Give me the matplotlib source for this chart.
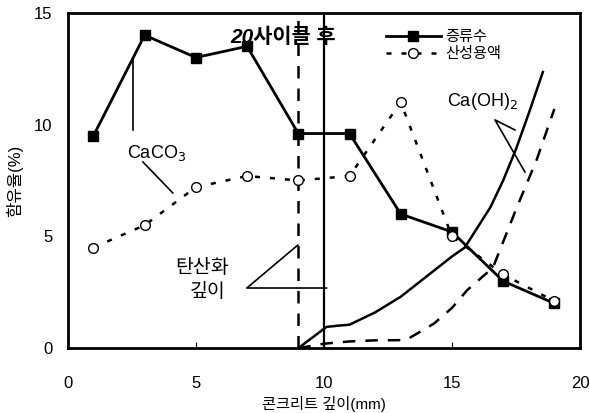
import numpy as np
import matplotlib.pyplot as plt

plt.rcParams['font.family'] = ['Liberation Sans', 'Noto Sans CJK KR', 'DejaVu Sans']

# 측정 깊이 (mm)
depth = [1, 3, 5, 7, 9, 11, 13, 15, 17, 19]
# 증류수
water = [9.5, 14.0, 13.0, 13.5, 9.6, 9.6, 6.0, 5.2, 3.0, 2.0]
# 산성용액
acid = [4.5, 5.5, 7.2, 7.7, 7.5, 7.7, 11.0, 5.0, 3.3, 2.1]

# Ca(OH)2 곡선
oh_water_x = [9.0, 10.1, 10.5, 11.0, 12.0, 13.0, 14.0, 15.0, 15.5, 16.0, 16.5, 17.0, 17.5, 18.0, 18.55]
oh_water_y = [0.0, 0.95, 1.0, 1.05, 1.6, 2.3, 3.2, 4.1, 4.5, 5.4, 6.3, 7.5, 8.9, 10.5, 12.35]
oh_acid_x = [9.0, 10.0, 10.5, 11.0, 12.0, 13.2, 14.3, 15.0, 15.6, 16.6, 17.5, 18.3, 19.0]
oh_acid_y = [0.0, 0.2, 0.25, 0.3, 0.35, 0.36, 1.1, 1.8, 2.6, 3.6, 6.2, 8.4, 10.7]

fig = plt.figure(figsize=(5.9, 4.13), dpi=100)
ax = fig.add_axes([0.115, 0.157, 0.868, 0.812])

ax.plot(depth, water, '-', color='black', lw=2, marker='s', ms=7,
        mfc='black', label='증류수', zorder=4)
ax.plot(depth, acid, color='black', lw=1.8, ls=(0, (2, 4)), marker='o', ms=7,
        mfc='white', mec='black', label='산성용액', zorder=5)

ax.plot(oh_water_x, oh_water_y, '-', color='black', lw=1.8)
ax.plot(oh_acid_x, oh_acid_y, color='black', lw=1.8, ls=(0, (5, 4)))

# 탄산화 깊이
ax.plot([9, 9], [0, 15], color='black', lw=1.8, ls=(0, (5, 4)))
ax.plot([10, 10], [0, 15], color='black', lw=1.6)

# 지시선
ax.plot([2.54, 2.54], [12.96, 9.76], color='black', lw=1.2)
ax.plot([2.93, 4.1], [8.33, 6.94], color='black', lw=1.2)
ax.text(2.3, 8.5, 'CaCO$_3$', fontsize=13)

ax.plot([17.46, 16.68, 17.85], [9.76, 10.21, 7.88], color='black', lw=1.2)
ax.text(14.8, 10.85, 'Ca(OH)$_2$', fontsize=13)

ax.plot([8.98, 6.99, 10.1], [4.61, 2.69, 2.69], color='black', lw=1.2)
ax.text(4.2, 3.35, '탄산화', fontsize=14)
ax.text(4.75, 2.3, '깊이', fontsize=14)

ax.text(8.4, 13.9, '20사이클 후', fontsize=15, style='italic', fontweight='bold',
        ha='center', va='center')

ax.set_xlim(0, 20)
ax.set_ylim(0, 15)
ax.set_xticks([0, 5, 10, 15, 20])
ax.set_yticks([0, 5, 10, 15])
ax.tick_params(direction='in', length=4, labelsize=12, pad=20)
ax.tick_params(axis='y', length=0, pad=11)
for s in ax.spines.values():
    s.set_linewidth(2)

ax.set_xlabel('콘크리트 깊이(mm)', fontsize=11, labelpad=4)
ax.set_ylabel('함유율(%)', fontsize=12, labelpad=8)

ax.legend(loc='upper right', bbox_to_anchor=(0.87, 0.985), frameon=False,
          fontsize=11, handlelength=3.6, handletextpad=0.3, borderpad=0.3,
          labelspacing=0.2)

fig.savefig('out.png', dpi=100)
